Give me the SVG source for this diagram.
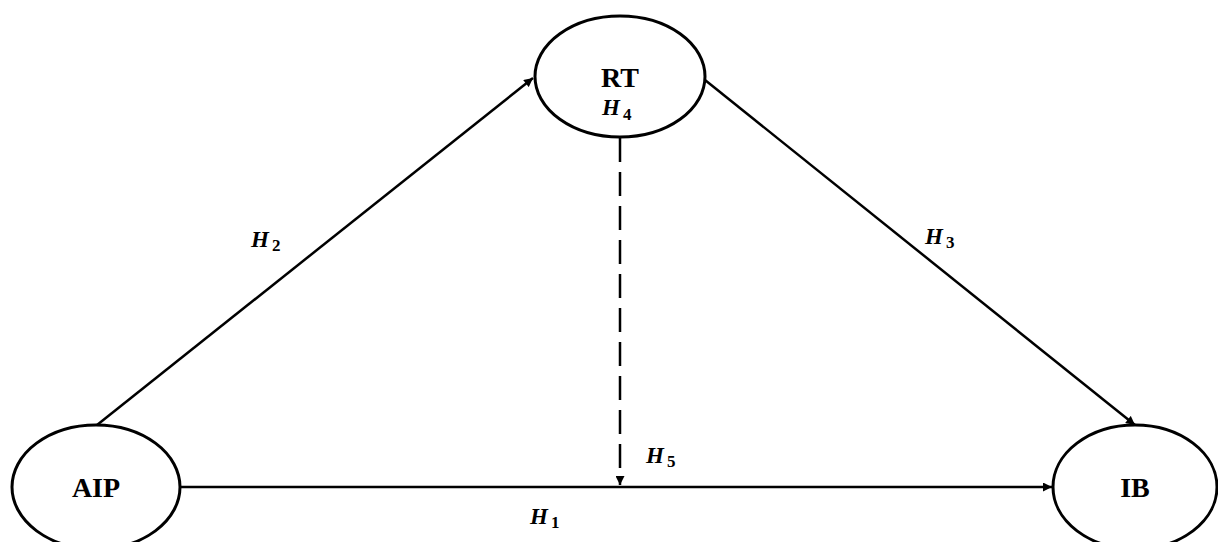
<svg xmlns="http://www.w3.org/2000/svg" width="1218" height="542" viewBox="0 0 1218 542">
<style>
.node{fill:#fff;stroke:#000;stroke-width:3}
.lbl{font-family:"Liberation Serif",serif;font-weight:bold;font-size:28px;text-anchor:middle;fill:#000}
.h{font-family:"Liberation Serif",serif;font-weight:bold;font-style:italic;font-size:23px;fill:#000}
.sub{font-family:"Liberation Serif",serif;font-weight:bold;font-style:normal;font-size:17px}
.edge{stroke:#000;stroke-width:2.5;fill:none}
</style>
<defs>
<marker id="arr" viewBox="0 0 10 10" refX="10" refY="5" markerWidth="10" markerHeight="9" markerUnits="userSpaceOnUse" orient="auto">
<path d="M0,0 L10,5 L0,10 z" fill="#000"/>
</marker>
</defs>
<rect width="1218" height="542" fill="#fff"/>
<g id="connectors">
<line class="edge" x1="97" y1="425" x2="533" y2="78" marker-end="url(#arr)"/>
<line class="edge" x1="705" y1="80" x2="1135" y2="425" marker-end="url(#arr)"/>
<line class="edge" x1="180" y1="487" x2="1052" y2="487" marker-end="url(#arr)"/>
<line class="edge" x1="620" y1="138" x2="620" y2="485" stroke-width="3" stroke-dasharray="24 10" marker-end="url(#arr)"/>
</g>
<g id="AIP">
<ellipse class="node" cx="96" cy="487" rx="84" ry="62"/>
<text class="lbl" x="96" y="497">AIP</text>
</g>
<g id="RT">
<ellipse class="node" cx="620" cy="76.5" rx="85" ry="60.5"/>
<text class="lbl" x="620" y="87">RT</text>
<text class="h" x="602" y="115">H<tspan class="sub" dx="3" dy="5">4</tspan></text>
</g>
<g id="IB">
<ellipse class="node" cx="1135" cy="487" rx="82" ry="62"/>
<text class="lbl" x="1135" y="497">IB</text>
</g>
<g id="labels">
<text class="h" x="251" y="247">H<tspan class="sub" dx="3" dy="4">2</tspan></text>
<text class="h" x="925" y="244">H<tspan class="sub" dx="3" dy="4">3</tspan></text>
<text class="h" x="646" y="463">H<tspan class="sub" dx="3" dy="4">5</tspan></text>
<text class="h" x="530" y="524">H<tspan class="sub" dx="3" dy="4">1</tspan></text>
</g>
</svg>
